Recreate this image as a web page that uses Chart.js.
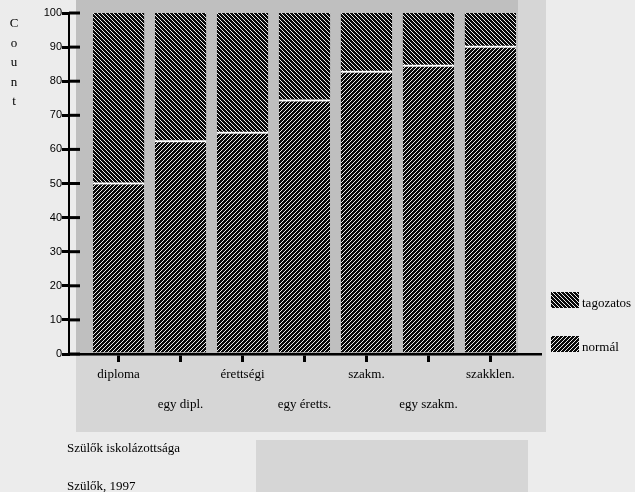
<!DOCTYPE html>
<html>
<head>
<meta charset="utf-8">
<script src="https://cdn.jsdelivr.net/npm/chart.js@4.4.0/dist/chart.umd.min.js"></script>
<style>
  html, body { margin: 0; padding: 0; background: #ececec; }
  #wrap { width: 635px; height: 492px; }
</style>
</head>
<body>
<div id="wrap"><canvas id="chart" width="635" height="492"></canvas></div>
<script>
// School level of the parents, share of pupils per class type
const categories = ["diploma", "egy dipl.", "érettségi", "egy éretts.", "szakm.", "egy szakm.", "szakklen."];
const normal = [50.3, 62.7, 65.2, 74.6, 83.1, 84.8, 90.4];
const tagozatos = [49.7, 37.3, 34.8, 25.4, 16.9, 15.2, 9.6];
const seriesNames = ["normál", "tagozatos"];
const axisLetters = ["C", "o", "u", "n", "t"];
const titleText = "Szülők iskolázottsága";
const sourceText = "Szülők, 1997";

const canvas = document.getElementById("chart");
const ctx = canvas.getContext("2d");

// Black tile with a one pixel light diagonal, repeated as the bar fill
function hatch(rising) {
  const tile = document.createElement("canvas");
  tile.width = 4;
  tile.height = 4;
  const g = tile.getContext("2d");
  g.fillStyle = "#0a0a0a";
  g.fillRect(0, 0, 4, 4);
  g.fillStyle = "#eeeeee";
  for (let i = 0; i < 4; i++) {
    g.fillRect(i, rising ? 3 - i : i, 1, 1);
  }
  return ctx.createPattern(tile, "repeat");
}

const serif = '"Liberation Serif", "Times New Roman", serif';

// Scanned paper background, Count letters, legend, captions
const paper = {
  id: "paper",
  beforeDraw(chart) {
    const c = chart.ctx;
    c.save();
    c.fillStyle = "#ececec";
    c.fillRect(0, 0, chart.width, chart.height);
    c.fillStyle = "#d6d6d6";
    c.fillRect(76, 356, 470, 76);
    c.fillRect(518, 0, 28, 356);
    c.fillRect(256, 440, 272, 52);
    c.fillStyle = "#bfbfbf";
    c.fillRect(76, 0, 442, 356);
    c.restore();
  },
  afterDraw(chart) {
    const c = chart.ctx;
    const area = chart.chartArea;
    const y = chart.scales.y;
    c.save();

    // tick marks cross the y axis
    c.strokeStyle = "#000";
    c.lineWidth = 3;
    y.ticks.forEach((t, i) => {
      const py = y.getPixelForTick(i);
      c.beginPath();
      c.moveTo(area.left, py);
      c.lineTo(area.left + 11, py);
      c.stroke();
    });

    c.fillStyle = "#000";
    c.font = "13px " + serif;
    c.textAlign = "center";
    c.textBaseline = "middle";
    axisLetters.forEach((ch, i) => c.fillText(ch, 14, 24 + i * 19.5));

    // legend, top series first
    const sets = chart.data.datasets.slice().reverse();
    c.textAlign = "left";
    c.textBaseline = "alphabetic";
    c.font = "13px " + serif;
    sets.forEach((ds, i) => {
      const top = 292 + i * 44;
      c.fillStyle = ds.backgroundColor;
      c.fillRect(551, top, 28, 16);
      c.fillStyle = "#000";
      c.fillText(ds.label, 582, top + 15);
    });

    c.fillText(titleText, 67, 452);
    c.fillText(sourceText, 67, 490);
    c.restore();
  }
};

const config = {
  type: "bar",
  data: {
    datasets: [
      {
        label: seriesNames[0],
        data: normal.map((v, i) => ({ x: i, y: v })),
        backgroundColor: hatch(true),
        borderColor: "#ffffff",
        borderWidth: { top: 2, right: 0, bottom: 0, left: 0 },
        borderSkipped: false,
      },
      {
        label: seriesNames[1],
        data: tagozatos.map((v, i) => ({ x: i, y: v })),
        backgroundColor: hatch(false),
        borderWidth: 0,
      },
    ],
  },
  options: {
    responsive: false,
    animation: false,
    devicePixelRatio: 1,
    barPercentage: 0.825,
    categoryPercentage: 1,
    layout: {
      padding: { top: 13, right: 95, bottom: 0, left: 0 },
    },
    plugins: {
      legend: { display: false },
      tooltip: { enabled: false },
    },
    scales: {
      x: {
        type: "linear",
        stacked: true,
        offset: false,
        min: -0.8,
        max: 6.8,
        afterBuildTicks: (s) => {
          s.ticks = categories.map((_, i) => ({ value: i }));
        },
        afterFit: (s) => {
          s.height = 138;
        },
        grid: {
          offset: false,
          drawOnChartArea: false,
          tickLength: 8,
          lineWidth: 3,
          color: "#000",
        },
        border: { display: true, color: "#000", width: 2.5 },
        ticks: {
          autoSkip: false,
          maxRotation: 0,
          padding: -2,
          color: "#000",
          font: { family: serif, size: 13, lineHeight: 2.3 },
          callback: (value) => {
            const i = Math.round(value);
            return i % 2 ? ["", categories[i]] : categories[i];
          },
        },
      },
      y: {
        stacked: true,
        min: 0,
        max: 100,
        afterFit: (s) => {
          s.width = 69;
        },
        grid: {
          drawOnChartArea: false,
          tickLength: 7,
          lineWidth: 3,
          color: "#000",
        },
        border: { display: true, color: "#000", width: 2 },
        ticks: {
          stepSize: 10,
          padding: 0,
          color: "#000",
          font: { family: '"Liberation Sans", Arial, sans-serif', size: 11 },
        },
      },
    },
  },
  plugins: [paper],
};

const chart = new Chart(ctx, config);
</script>
</body>
</html>
